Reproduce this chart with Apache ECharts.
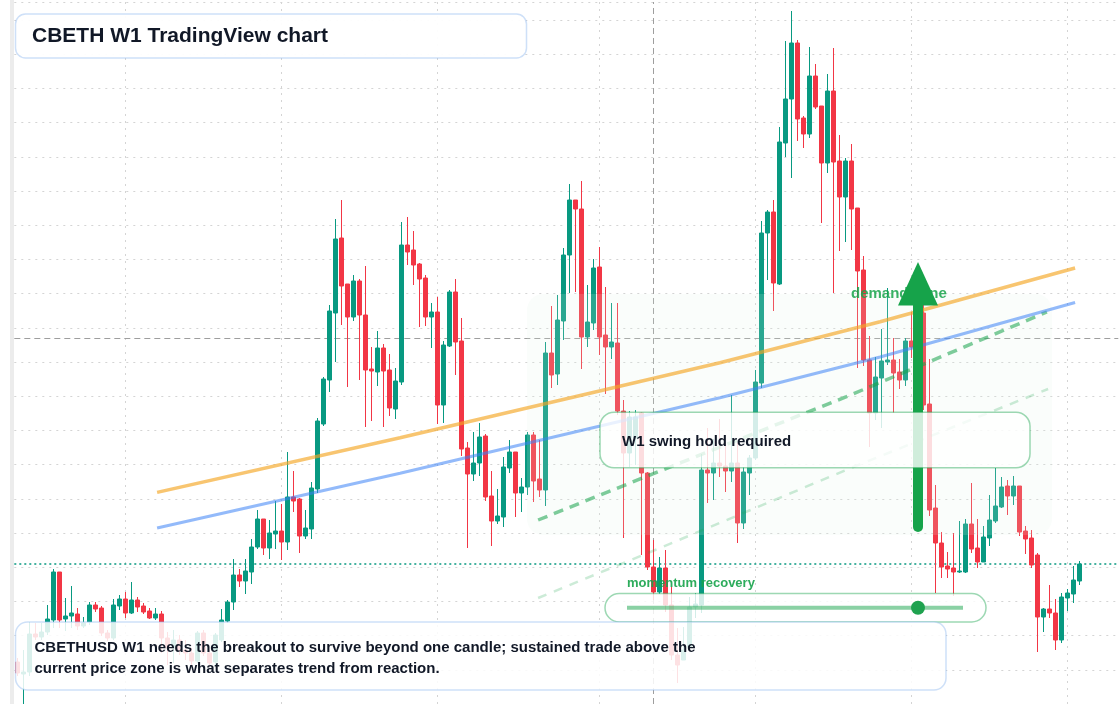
<!DOCTYPE html>
<html><head><meta charset="utf-8">
<script src="https://cdn.jsdelivr.net/npm/echarts@6/dist/echarts.min.js"></script>
<style>html,body{margin:0;padding:0;background:#fff;}#c{width:1120px;height:704px;}</style>
</head><body><div id="c"></div>
<script>
// Weekly candles (price units)
const open  = [42,30,32,70,67,72,84,132,85,88,90,78,82,99,96,71,66,98,105,91,104,98,93,86,90,66,56,64,54,51,43,71,51,42,64,83,102,129,123,132,157,185,156,170,173,162,207,205,168,175,215,280,324,391,466,420,387,423,389,335,332,356,334,295,322,459,454,440,426,387,392,299,358,412,363,256,230,241,268,208,183,187,236,252,211,217,269,225,214,351,330,383,449,504,495,367,381,437,369,357,361,293,251,266,291,231,137,112,136,99,49,44,57,97,99,234,231,241,238,233,241,181,231,246,321,471,492,420,561,605,661,586,570,628,598,541,613,543,507,543,496,434,344,291,326,342,344,332,324,363,357,391,300,196,161,138,136,132,132,180,156,142,166,183,197,218,208,218,173,166,149,87,95,91,64,106,110,123];
const close = [31,32,70,67,72,85,132,84,88,91,78,81,99,95,71,66,99,105,91,104,97,92,86,90,66,56,64,54,51,43,71,51,41,69,84,102,129,123,133,157,185,156,171,173,162,207,203,168,176,216,283,325,393,465,418,387,423,389,334,333,356,333,296,323,459,452,439,425,387,392,299,359,412,362,255,230,241,267,207,183,188,237,252,211,217,269,223,214,351,329,384,449,504,495,367,382,436,367,357,362,293,251,287,287,231,137,112,136,99,49,39,54,97,100,234,231,241,238,233,241,181,232,246,322,471,492,421,562,605,661,585,570,628,597,541,613,542,507,543,495,433,344,291,327,343,344,331,324,363,357,391,299,194,161,137,135,132,133,180,155,142,167,184,198,217,208,218,172,165,139,87,95,91,64,107,111,124,140];
const low   = [28,0,28,64,64,69,76,76,73,76,74,76,79,92,68,63,64,94,86,90,92,90,85,84,51,39,41,49,44,39,41,48,38,39,62,81,94,117,110,120,155,149,145,155,144,154,192,151,165,165,211,278,312,342,379,317,383,324,277,283,318,277,288,285,319,439,419,377,378,356,280,281,357,329,248,156,223,228,203,158,180,177,231,187,192,209,202,207,198,316,319,364,411,412,335,357,374,349,310,345,289,166,237,239,149,134,104,110,92,44,21,44,54,86,91,201,204,227,212,222,161,175,209,244,316,424,393,419,547,526,563,556,566,595,481,531,411,453,462,454,336,338,257,284,276,339,291,315,318,346,352,294,188,111,126,126,108,131,131,151,136,142,158,181,196,189,199,168,150,136,52,72,86,54,61,93,101,119];
const high  = [46,54,82,81,81,99,135,132,106,118,96,87,102,102,98,74,105,109,112,122,107,101,96,96,93,72,74,69,64,56,73,74,54,71,95,104,145,135,145,165,194,185,184,203,200,252,233,206,194,222,286,327,399,485,504,420,429,425,438,357,373,360,350,336,482,487,473,441,429,401,407,363,414,425,386,262,272,281,270,233,215,247,264,252,226,272,272,264,362,398,409,456,520,504,523,419,445,457,417,401,401,304,293,294,292,232,164,147,154,117,76,77,107,111,250,276,265,285,262,309,261,237,249,334,483,494,504,577,663,693,664,588,657,640,598,630,656,569,546,560,496,448,368,347,375,416,366,345,366,392,399,399,345,219,172,152,171,183,185,221,185,178,209,236,227,224,228,218,178,174,151,96,119,105,111,115,138,143];
const emptySlots = 6;               // blank weeks kept at the right edge
const gridLineIdx = [18, 44, 70, 97, 123, 149, 175];  // vertical time grid lines
const crossIdx = 106;               // crosshair week
const crossValue = 366;             // crosshair price
// Drawn trend lines: [week index, price]
const orangeLine = [[23.3,211.6],[63.8,266.3],[117.1,341.3],[143.8,382.3],[176.3,436]];
const blueLine   = [[23.3,176],[63.8,230.7],[117.1,306.3],[143.8,347],[176.3,401.5]];
const greenDash  = [[86.8,184],[107.1,233],[138.2,307.3],[171.6,392]];
const lightDash  = [[86.8,106],[106.3,154],[138.8,235.7],[171.8,315]];

const categories = [];
for (let i = 0; i < open.length + emptySlots; i++) categories.push('W' + (i + 1));
const candles = open.map((o, i) => [o, close[i], low[i], high[i]]);
const lastClose = close[close.length - 1];

const UP = '#089981', DOWN = '#F23645';
const FONT = '"Liberation Sans", Arial, sans-serif';
const gridDot = { color: '#d4d4d4', width: 1, type: [2, 5] };

const chart = echarts.init(document.getElementById('c'), null, { renderer: 'canvas' });

function trend(data, color, width, type, z) {
  return { type: 'line', xAxisIndex: 1, yAxisIndex: 0, data, symbol: 'none', silent: true, z,
    lineStyle: { color, width, type }, animation: false };
}

chart.setOption({
  animation: false,
  backgroundColor: '#ffffff',
  grid: { left: 14.3, right: 1.7, top: 2, bottom: 0, containLabel: false },
  xAxis: [
    { type: 'category', data: categories, boundaryGap: true, show: true,
      axisLine: { show: false }, axisTick: { show: false }, axisLabel: { show: false }, splitLine: { show: false } },
    { type: 'value', min: -0.5, max: categories.length - 0.5, show: false }
  ],
  yAxis: [{ type: 'value', min: 0, max: 702, interval: 34.2, show: true,
    axisLine: { show: false }, axisTick: { show: false }, axisLabel: { show: false },
    splitLine: { show: true, lineStyle: gridDot } }],
  series: [
    { type: 'line', data: [], z: 1, silent: true, symbol: 'none',
      markLine: { z: 1, silent: true, symbol: 'none', label: { show: false }, animation: false,
        data: gridLineIdx.map(i => ({ xAxis: categories[i], lineStyle: gridDot })).concat([
          { xAxis: categories[crossIdx], lineStyle: { color: '#9e9e9e', width: 1, type: [6, 4] } },
          { yAxis: crossValue, lineStyle: { color: '#9e9e9e', width: 1, type: [6, 4] } },
          { yAxis: lastClose, lineStyle: { color: UP, width: 1.5, type: [2, 3] } }
        ]) } },
    { type: 'candlestick', data: candles, z: 2, barWidth: 4, silent: true,
      itemStyle: { color: UP, color0: DOWN, borderColor: UP, borderColor0: DOWN, borderWidth: 1 } },
    trend(lightDash, 'rgba(22,163,74,0.22)', 2.5, [9, 8], 4),
    trend(greenDash, 'rgba(22,163,74,0.55)', 3.5, [10, 7], 4),
    trend(orangeLine, 'rgba(245,166,35,0.65)', 3.5, 'solid', 4),
    trend(blueLine, 'rgba(59,130,246,0.55)', 3.2, 'solid', 4)
  ],
  graphic: [
    { type: 'rect', z: 10, silent: true, shape: { x: 10, y: 0, width: 4, height: 704 }, style: { fill: '#ececec' } },
    // demand zone overlay
    { type: 'rect', z: 3, silent: true, shape: { x: 527, y: 294, width: 525, height: 241, r: 16 },
      style: { fill: 'rgba(226,245,233,0.16)' } },
    { type: 'text', z: 4, silent: true, style: { text: 'demand zone', x: 851, y: 293.5, font: 'bold 15px ' + FONT,
      fill: 'rgba(22,163,74,0.85)', align: 'left', verticalAlign: 'middle' } },
    // arrow
    { type: 'rect', z: 5, silent: true, shape: { x: 913, y: 300, width: 10, height: 232, r: 5 }, style: { fill: '#16a34a' } },
    { type: 'polygon', z: 5, silent: true, shape: { points: [[918, 262], [898, 305.5], [938, 305.5]] }, style: { fill: '#16a34a' } },
    // mid box
    { type: 'rect', z: 6, silent: true, shape: { x: 600, y: 412.3, width: 430, height: 55.4, r: 14 },
      style: { fill: 'rgba(255,255,255,0.8)', stroke: 'rgba(22,163,74,0.42)', lineWidth: 1.5 } },
    { type: 'text', z: 7, silent: true, style: { text: 'W1 swing hold required', x: 622, y: 442, font: 'bold 15px ' + FONT,
      fill: '#111827', align: 'left', verticalAlign: 'middle' } },
    // momentum widget
    { type: 'text', z: 7, silent: true, style: { text: 'momentum recovery', x: 627, y: 583, font: 'bold 13px ' + FONT,
      fill: 'rgba(22,163,74,0.9)', align: 'left', verticalAlign: 'middle' } },
    { type: 'rect', z: 6, silent: true, shape: { x: 605, y: 593.5, width: 381, height: 28.5, r: 14.25 },
      style: { fill: 'rgba(255,255,255,0.82)', stroke: 'rgba(22,163,74,0.42)', lineWidth: 1.5 } },
    { type: 'line', z: 7, silent: true, shape: { x1: 627, y1: 607.7, x2: 963, y2: 607.7 },
      style: { stroke: 'rgba(22,163,74,0.5)', lineWidth: 4 } },
    { type: 'circle', z: 7, silent: true, shape: { cx: 918, cy: 607.7, r: 7 }, style: { fill: '#1fa24f' } },
    // bottom note
    { type: 'rect', z: 6, silent: true, shape: { x: 15.5, y: 622, width: 930.5, height: 68, r: 12 },
      style: { fill: 'rgba(255,255,255,0.85)', stroke: 'rgba(147,187,240,0.45)', lineWidth: 1.5 } },
    { type: 'text', z: 7, silent: true, style: { text: 'CBETHUSD W1 needs the breakout to survive beyond one candle; sustained trade above the',
      x: 34.5, y: 648.3, font: 'bold 15px ' + FONT, fill: '#111827', align: 'left', verticalAlign: 'middle' } },
    { type: 'text', z: 7, silent: true, style: { text: 'current price zone is what separates trend from reaction.',
      x: 34.5, y: 669, font: 'bold 15px ' + FONT, fill: '#111827', align: 'left', verticalAlign: 'middle' } },
    // title
    { type: 'rect', z: 6, silent: true, shape: { x: 15.5, y: 14, width: 511, height: 44, r: 10 },
      style: { fill: 'rgba(255,255,255,0.95)', stroke: 'rgba(147,187,240,0.45)', lineWidth: 1.5 } },
    { type: 'text', z: 7, silent: true, style: { text: 'CBETH W1 TradingView chart', x: 32, y: 36.5, font: 'bold 21px ' + FONT,
      fill: '#111827', align: 'left', verticalAlign: 'middle' } }
  ]
});
</script></body></html>
